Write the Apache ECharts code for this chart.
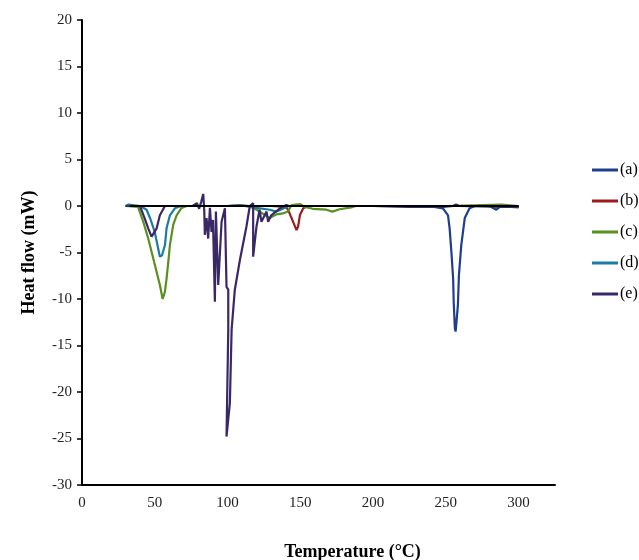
<!DOCTYPE html>
<html>
<head>
<meta charset="utf-8">
<script src="https://cdn.jsdelivr.net/npm/echarts@6/dist/echarts.min.js"></script>
<style>
  html, body { margin: 0; padding: 0; background: #fff; }
  #chart { width: 639px; height: 560px; }
</style>
</head>
<body>
<div id="chart"></div>
<script>
// DSC curves, temperature (°C) vs heat flow (mW)
const tempA = [30, 31, 60, 100, 150, 200, 240, 248, 251.5, 252.6, 253.8, 255, 255.4, 256.2, 256.7, 257.3, 258.3, 259, 260.6, 263, 266.3, 270, 276.7, 280, 284.7, 288, 295, 300];
const flowA = [0, 0.15, 0, 0, 0, 0, -0.05, -0.25, -1.0, -2.4, -4.9, -7.8, -10.3, -13.2, -13.5, -12.5, -10.6, -7.4, -4.2, -1.3, -0.25, 0, 0.1, 0, -0.4, 0, -0.1, -0.15];

const tempB = [30, 60, 100, 130, 140, 141.6, 144, 147.4, 148.5, 149.7, 152, 155, 200, 250, 300];
const flowB = [0, 0, 0, 0, -0.1, -0.4, -1.3, -2.6, -2.2, -1.0, -0.25, 0, 0, 0, 0];

const tempC = [30, 38.5, 42.1, 45.5, 50, 53.5, 55.4, 57, 58.1, 59.3, 60.4, 62.7, 65, 68.4, 72, 100, 109, 115, 120, 125, 129, 133.6, 138, 141.5, 144, 150, 153, 158.6, 168, 172, 177, 185, 188, 250, 288, 300];
const flowC = [0, -0.1, -1.7, -3.5, -6.3, -8.5, -10, -9.2, -7.8, -6.0, -4.2, -2.0, -1.0, -0.2, 0, 0, 0.1, 0, -0.4, -0.9, -1.3, -0.9, -0.8, -0.6, 0.1, 0.2, -0.1, -0.3, -0.4, -0.6, -0.35, -0.15, 0, 0, 0.15, 0];

const tempD = [30, 32, 40, 44.4, 47, 50, 53.5, 54.2, 55, 57, 58.1, 60.4, 63.8, 68, 100, 108.5, 120, 129, 133.6, 138, 142, 150, 200, 250, 300];
const flowD = [0, 0.15, 0, -0.4, -1.4, -2.8, -5.45, -5.6, -5.3, -4.2, -2.4, -1.0, -0.25, 0, 0, 0.1, -0.2, -0.4, -0.6, -0.3, 0, 0, 0, 0, 0];

const tempE = [30, 39.8, 43, 45.5, 47.8, 48.5, 51.3, 53.5, 57, 65, 76, 79, 80.5, 82, 83.3, 84, 84.4, 85.6, 86.7, 87.9, 89, 90, 91.3, 92, 93.6, 95.9, 98.2, 99.3, 100.5, 100.5, 99.3, 101.6, 102.8, 105, 108.5, 113, 115.3, 117.6, 117.6, 119.9, 122, 123.3, 126.8, 127.9, 130, 136, 140.5, 142, 200, 225, 248, 255, 257, 259, 290, 300];
const flowE = [0, 0, -1.3, -2.4, -3.3, -3.4, -2.4, -1.0, 0, 0, 0, 0.3, -0.3, 0.5, 1.3, -0.5, -3.1, -1.3, -3.5, -0.2, -2.8, -1.5, -10.3, -0.6, -8.5, -1.7, -0.25, -8.7, -9, -13.3, -24.8, -21.2, -13.3, -9, -5.8, -2.2, 0, 0.3, -5.45, -2.2, -0.4, -1.7, -0.6, -1.7, -1.0, -0.25, 0.1, 0, 0, -0.1, -0.1, 0, 0.15, 0, -0.1, -0.1];

const tempBase = [33, 300];
const flowBase = [0, 0];

const names = ['(a)', '(b)', '(c)', '(d)', '(e)'];
const colors = ['#1f3f8c', '#9a1c1f', '#5a8f22', '#1d7ba3', '#3a2866'];
const xTicks = [0, 50, 100, 150, 200, 250, 300];

const pairs = (t, f) => t.map((x, i) => [x, f[i]]);
const curves = [pairs(tempA, flowA), pairs(tempB, flowB), pairs(tempC, flowC), pairs(tempD, flowD), pairs(tempE, flowE)];

const font = 'Liberation Serif';
const chart = echarts.init(document.getElementById('chart'));

chart.setOption({
  animation: false,
  grid: { left: 82, top: 20, right: 84, bottom: 75, containLabel: false, outerBoundsMode: 'none' },
  legend: {
    orient: 'vertical',
    left: 587,
    top: 157,
    itemGap: 15,
    itemWidth: 26,
    itemHeight: 3,
    icon: 'rect',
    data: names,
    textStyle: { fontFamily: font, fontSize: 16, color: '#000', padding: [0, 0, 0, -3] },
  },
  xAxis: {
    type: 'value',
    min: 0,
    max: 325,
    interval: 50,
    name: 'Temperature (°C)',
    nameLocation: 'middle',
    nameGap: 58,
    nameTextStyle: { fontFamily: font, fontSize: 18, fontWeight: 'bold', color: '#000', padding: [0, 0, 0, 68] },
    axisLine: { onZero: false, lineStyle: { color: '#000', width: 2 } },
    axisTick: { show: false },
    splitLine: { show: false },
    axisLabel: {
      fontFamily: font, fontSize: 15, color: '#222', margin: 11, showMaxLabel: false,
      formatter: (v) => (xTicks.includes(v) ? String(v) : ''),
    },
  },
  yAxis: {
    type: 'value',
    min: -30,
    max: 20,
    interval: 5,
    name: 'Heat flow (mW)',
    nameLocation: 'middle',
    nameGap: 44,
    nameTextStyle: { fontFamily: font, fontSize: 18, fontWeight: 'bold', color: '#000' },
    axisLine: { onZero: false, lineStyle: { color: '#000', width: 2 } },
    axisTick: { show: true, length: 5, lineStyle: { color: '#000', width: 1.5 } },
    splitLine: { show: false },
    axisLabel: { fontFamily: font, fontSize: 15, color: '#222', margin: 10 },
  },
  series: curves.map((d, i) => ({
    name: names[i],
    type: 'line',
    data: d,
    showSymbol: false,
    color: colors[i],
    lineStyle: { width: 2.2 },
  })).concat([{
    name: 'base',
    type: 'line',
    data: pairs(tempBase, flowBase),
    showSymbol: false,
    color: '#000',
    lineStyle: { width: 1.8 },
  }]),
});
</script>
</body>
</html>
